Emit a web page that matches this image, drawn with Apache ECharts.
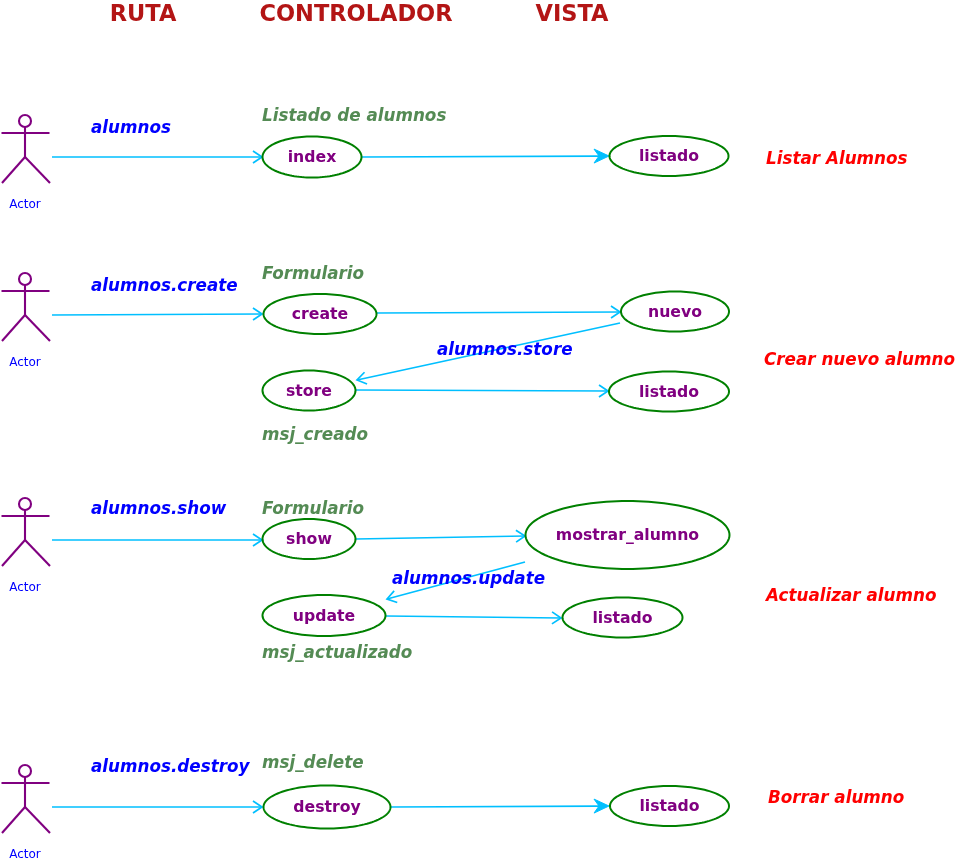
<!DOCTYPE html>
<html>
<head>
<meta charset="utf-8">
<script src="https://cdn.jsdelivr.net/npm/echarts@6/dist/echarts.min.js"></script>
<style>
  html, body { margin: 0; padding: 0; background: #fff; }
  #main { width: 957px; height: 863px; }
</style>
</head>
<body>
<div id="main"></div>
<script>
// column headings
const headers = ["RUTA", "CONTROLADOR", "VISTA"];
const headerX = [143, 356, 572];
const headerY = 13;

// actors (centre of the head)
const actorX = 25;
const actorY = [121, 279, 504, 771];

// route names
const routes = [
  ["alumnos", 91, 126],
  ["alumnos.create", 91, 284],
  ["alumnos.store", 437, 348],
  ["alumnos.show", 91, 507],
  ["alumnos.update", 392, 577],
  ["alumnos.destroy", 91, 765]
];
// notes on the controller side
const notes = [
  ["Listado de alumnos", 262, 114],
  ["Formulario", 262, 272],
  ["msj_creado", 262, 433],
  ["Formulario", 262, 507],
  ["msj_actualizado", 262, 651],
  ["msj_delete", 262, 761]
];
// what each row does
const actions = [
  ["Listar Alumnos", 766, 157],
  ["Crear nuevo alumno", 764, 358],
  ["Actualizar alumno", 766, 594],
  ["Borrar alumno", 768, 796]
];
// use cases: centre x, centre y, width, height, name
const useCases = [
  [312, 157, 99, 41, "index"],
  [669, 156, 119, 40, "listado"],
  [320, 314, 113, 40, "create"],
  [675, 311.5, 108, 40, "nuevo"],
  [309, 390.5, 93, 40, "store"],
  [669, 391.5, 120, 40, "listado"],
  [309, 539, 93, 40, "show"],
  [627.5, 535, 204, 68, "mostrar_alumno"],
  [324, 615.5, 123, 41, "update"],
  [622.5, 617.5, 120, 40, "listado"],
  [327, 807, 127, 43, "destroy"],
  [669.5, 806, 119, 40, "listado"]
];
// flows: from x, from y, to x, to y, arrow head
const flows = [
  [52, 157, 262, 157, "open"],
  [362, 157, 609, 156, "solid"],
  [52, 315, 262, 314, "open"],
  [377, 313, 620, 312, "open"],
  [620, 323, 357, 380, "open"],
  [356, 390, 608, 391, "open"],
  [52, 540, 262, 540, "open"],
  [356, 539, 525, 536, "open"],
  [525, 562, 387, 599, "open"],
  [386, 616, 561, 618, "open"],
  [52, 807, 262, 807, "open"],
  [391, 807, 609, 806, "solid"]
];

const FONT = '"DejaVu Sans", Verdana, sans-serif';
const chart = echarts.init(document.getElementById("main"));

// dy nudges the glyphs so their middle sits on the given y
function textSeries(rows, style, dy) {
  return {
    type: "custom",
    coordinateSystem: "cartesian2d",
    silent: true,
    data: rows.map(r => [r[1], r[2]]),
    renderItem: (params, api) => {
      const p = api.coord([api.value(0), api.value(1)]);
      return {
        type: "text",
        x: p[0],
        y: p[1] + dy,
        style: Object.assign({ text: rows[params.dataIndex][0] }, style)
      };
    }
  };
}

const option = {
  animation: false,
  grid: { left: 0, right: 0, top: 0, bottom: 0 },
  xAxis: { type: "value", min: 0, max: 957, show: false },
  yAxis: { type: "value", min: 0, max: 863, inverse: true, show: false },
  series: [
    // arrows
    {
      type: "custom",
      coordinateSystem: "cartesian2d",
      silent: true,
      data: flows.map(f => [f[0], f[1], f[2], f[3]]),
      renderItem: (params, api) => {
        const a = api.coord([api.value(0), api.value(1)]);
        const b = api.coord([api.value(2), api.value(3)]);
        const dx = b[0] - a[0], dy = b[1] - a[1];
        const L = Math.hypot(dx, dy);
        const ux = dx / L, uy = dy / L, nx = -uy, ny = ux;
        const col = "#00BFFF";
        if (flows[params.dataIndex][4] === "solid") {
          const len = 15, half = 7, notch = 10;
          const w1 = [b[0] - ux * len + nx * half, b[1] - uy * len + ny * half];
          const w2 = [b[0] - ux * len - nx * half, b[1] - uy * len - ny * half];
          const n = [b[0] - ux * notch, b[1] - uy * notch];
          return {
            type: "group",
            children: [
              { type: "line", shape: { x1: a[0], y1: a[1], x2: n[0], y2: n[1] }, style: { stroke: col, lineWidth: 1.7 } },
              { type: "polygon", shape: { points: [b, w1, n, w2] }, style: { fill: col, stroke: col, lineWidth: 1 } }
            ]
          };
        }
        const len = 9, half = 6;
        const w1 = [b[0] - ux * len + nx * half, b[1] - uy * len + ny * half];
        const w2 = [b[0] - ux * len - nx * half, b[1] - uy * len - ny * half];
        return {
          type: "group",
          children: [
            { type: "line", shape: { x1: a[0], y1: a[1], x2: b[0], y2: b[1] }, style: { stroke: col, lineWidth: 1.7 } },
            { type: "polyline", shape: { points: [w1, b, w2] }, style: { stroke: col, lineWidth: 1.7, fill: null } }
          ]
        };
      }
    },
    // use case ellipses
    {
      type: "custom",
      coordinateSystem: "cartesian2d",
      silent: true,
      data: useCases.map(u => [u[0], u[1], u[2], u[3]]),
      renderItem: (params, api) => {
        const c = api.coord([api.value(0), api.value(1)]);
        const s = api.size([api.value(2), api.value(3)]);
        const rx = Math.abs(s[0]) / 2, ry = Math.abs(s[1]) / 2;
        const pts = [];
        for (let i = 0; i < 120; i++) {
          const t = (i / 120) * Math.PI * 2;
          pts.push([c[0] + rx * Math.cos(t), c[1] + ry * Math.sin(t)]);
        }
        return {
          type: "group",
          children: [
            { type: "polygon", shape: { points: pts }, style: { fill: "#fff", stroke: "#008000", lineWidth: 2 } },
            {
              type: "text", x: c[0], y: c[1] + 1,
              style: {
                text: useCases[params.dataIndex][4], fill: "#800080",
                font: "bold 15.7px " + FONT, align: "center", verticalAlign: "middle"
              }
            }
          ]
        };
      }
    },
    // actors
    {
      type: "custom",
      coordinateSystem: "cartesian2d",
      silent: true,
      data: actorY.map(y => [actorX, y]),
      renderItem: (params, api) => {
        const x = api.value(0), y = api.value(1);
        const P = (dx, dy) => api.coord([x + dx, y + dy]);
        const head = P(0, 0);
        const r = Math.abs(api.size([12, 12])[0]) / 2;
        const st = { stroke: "#800080", lineWidth: 2.1, fill: null };
        const ln = (p, q) => ({ type: "line", shape: { x1: p[0], y1: p[1], x2: q[0], y2: q[1] }, style: st });
        const lab = P(0, 84);
        return {
          type: "group",
          children: [
            { type: "circle", shape: { cx: head[0], cy: head[1], r: r }, style: st },
            ln(P(0, 6), P(0, 36)),
            ln(P(-23.5, 12), P(24.5, 12)),
            ln(P(0, 36), P(-23, 62)),
            ln(P(0, 36), P(25, 62)),
            {
              type: "text", x: lab[0], y: lab[1],
              style: { text: "Actor", fill: "#0000FF", font: "12px " + FONT, align: "center", verticalAlign: "middle" }
            }
          ]
        };
      }
    },
    textSeries(headers.map((h, i) => [h, headerX[i], headerY]), {
      fill: "#B31515", font: "bold 22.5px " + FONT, align: "center", verticalAlign: "middle"
    }, 2),
    textSeries(routes, {
      fill: "#0000FF", font: "italic bold 16.8px " + FONT, align: "left", verticalAlign: "middle"
    }, 2.5),
    textSeries(notes, {
      fill: "#548B54", font: "italic bold 16.8px " + FONT, align: "left", verticalAlign: "middle"
    }, 2.5),
    textSeries(actions, {
      fill: "#FF0000", font: "italic bold 16.8px " + FONT, align: "left", verticalAlign: "middle"
    }, 2.5)
  ]
};

chart.setOption(option);
</script>
</body>
</html>
